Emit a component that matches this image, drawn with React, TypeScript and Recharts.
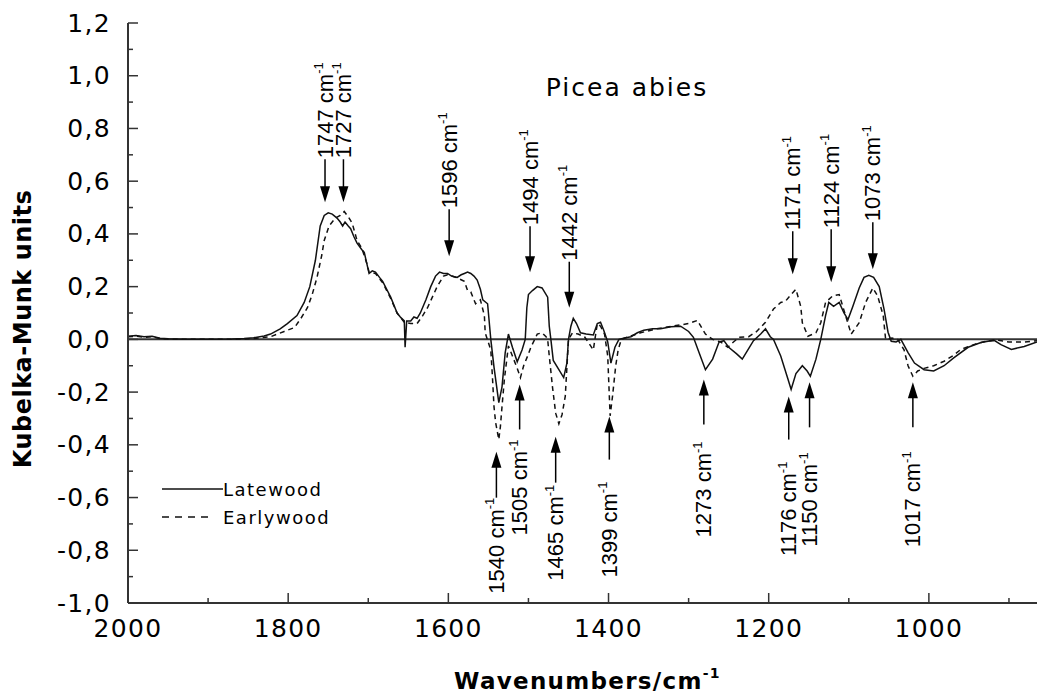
import React from "react";
import { LineChart, Line, XAxis, YAxis, ReferenceLine, ReferenceDot } from "recharts";

// Kubelka-Munk spectra: [wavenumber, value]
const latewood: [number, number][] = [
  [2000, 0.012], [1990, 0.015], [1980, 0.01], [1970, 0.012], [1960, 0.004], [1950, 0.002],
  [1930, 0], [1900, 0], [1870, 0.001], [1855, 0.003], [1843, 0.006], [1830, 0.013],
  [1822, 0.02], [1810, 0.04], [1801, 0.06], [1789, 0.09], [1780, 0.14], [1773, 0.2],
  [1766, 0.3], [1760, 0.43], [1755, 0.47], [1750, 0.48], [1745, 0.475], [1739, 0.46],
  [1735, 0.445], [1732, 0.43], [1729, 0.445], [1725, 0.43], [1722, 0.42], [1718, 0.39],
  [1714, 0.365], [1708, 0.34], [1705, 0.33], [1702, 0.29], [1699, 0.25], [1695, 0.26],
  [1691, 0.255], [1686, 0.235], [1682, 0.22], [1677, 0.19], [1672, 0.16], [1668, 0.13],
  [1664, 0.1], [1660, 0.085], [1655, 0.07], [1654, -0.03], [1652, 0.07], [1647, 0.07],
  [1643, 0.085], [1639, 0.08], [1635, 0.1], [1628, 0.15], [1622, 0.2], [1616, 0.24],
  [1611, 0.255], [1606, 0.25], [1601, 0.25], [1596, 0.24], [1589, 0.235], [1584, 0.245],
  [1580, 0.25], [1576, 0.255], [1572, 0.25], [1568, 0.24], [1564, 0.225], [1560, 0.19],
  [1557, 0.15], [1551, 0.135], [1547, 0], [1543, -0.105], [1537, -0.24], [1533, -0.18],
  [1529, -0.05], [1525, 0.02], [1520, -0.03], [1514, -0.085], [1508, -0.04], [1504, 0],
  [1502, 0.12], [1500, 0.17], [1495, 0.185], [1489, 0.2], [1483, 0.195], [1476, 0.16],
  [1474, 0.05], [1472, 0], [1469, -0.08], [1462, -0.115], [1456, -0.145], [1452, -0.09],
  [1450, 0], [1447, 0.05], [1444, 0.08], [1440, 0.06], [1435, 0.025], [1428, 0.02],
  [1419, 0.017], [1414, 0.06], [1410, 0.065], [1406, 0.035], [1401, -0.01], [1397, -0.09],
  [1392, -0.03], [1387, 0], [1380, 0.005], [1372, 0.01], [1364, 0.025], [1356, 0.035],
  [1345, 0.04], [1335, 0.04], [1322, 0.048], [1310, 0.05], [1300, 0.03], [1294, 0.008],
  [1287, -0.05], [1279, -0.115], [1270, -0.075], [1262, -0.01], [1256, -0.005], [1250, -0.03],
  [1240, -0.055], [1233, -0.075], [1226, -0.04], [1219, -0.005], [1210, 0.02], [1204, 0.04],
  [1198, 0.01], [1194, 0], [1185, -0.063], [1176, -0.15], [1172, -0.19], [1166, -0.13],
  [1158, -0.1], [1152, -0.12], [1148, -0.14], [1141, -0.075], [1135, 0], [1129, 0.09],
  [1125, 0.14], [1119, 0.125], [1112, 0.14], [1106, 0.1], [1101, 0.075], [1095, 0.125],
  [1087, 0.195], [1081, 0.235], [1075, 0.243], [1069, 0.235], [1062, 0.2], [1056, 0.115],
  [1051, 0.027], [1047, -0.007], [1041, -0.01], [1035, 0], [1026, -0.05], [1018, -0.09],
  [1006, -0.115], [994, -0.12], [981, -0.1], [969, -0.07], [951, -0.03], [935, -0.012],
  [919, -0.003], [910, -0.02], [897, -0.038], [881, -0.027], [865, -0.01],
];

const earlywood: [number, number][] = [
  [2000, 0.01], [1990, 0.012], [1980, 0.008], [1970, 0.01], [1960, 0.003], [1940, 0],
  [1900, 0], [1860, 0.001], [1840, 0.004], [1822, 0.01], [1805, 0.03], [1792, 0.045],
  [1784, 0.08], [1776, 0.12], [1770, 0.17], [1764, 0.235], [1758, 0.32], [1755, 0.375],
  [1749, 0.43], [1741, 0.46], [1735, 0.47], [1730, 0.485], [1725, 0.465], [1720, 0.44],
  [1714, 0.375], [1708, 0.345], [1702, 0.29], [1699, 0.255], [1691, 0.25], [1682, 0.215],
  [1672, 0.155], [1664, 0.1], [1655, 0.065], [1647, 0.06], [1639, 0.06], [1632, 0.09],
  [1626, 0.12], [1620, 0.16], [1614, 0.2], [1606, 0.24], [1601, 0.245], [1590, 0.235],
  [1580, 0.22], [1576, 0.185], [1572, 0.18], [1566, 0.135], [1560, 0.15], [1555, 0.09],
  [1554, 0.025], [1547, -0.04], [1545, -0.14], [1543, -0.255], [1541, -0.315], [1537, -0.38],
  [1535, -0.33], [1533, -0.255], [1530, -0.15], [1527, -0.075], [1525, -0.025], [1520, -0.063],
  [1514, -0.11], [1510, -0.145], [1506, -0.1], [1501, -0.063], [1497, -0.03], [1489, 0.02],
  [1483, 0.025], [1478, 0.01], [1476, 0], [1474, -0.063], [1470, -0.18], [1466, -0.28],
  [1462, -0.32], [1458, -0.285], [1454, -0.215], [1450, 0], [1445, 0.025], [1438, 0.02],
  [1430, 0.01], [1419, -0.04], [1414, 0.06], [1410, 0.05], [1405, 0.02], [1401, -0.063],
  [1400, -0.14], [1398, -0.29], [1395, -0.215], [1391, -0.1], [1388, -0.04], [1384, 0],
  [1375, 0.01], [1360, 0.025], [1340, 0.04], [1320, 0.05], [1300, 0.06], [1289, 0.072],
  [1279, 0.02], [1270, 0], [1260, -0.01], [1251, -0.03], [1244, -0.01], [1237, 0.008],
  [1225, 0.01], [1215, 0.03], [1204, 0.065], [1194, 0.115], [1185, 0.14], [1179, 0.145],
  [1172, 0.17], [1166, 0.19], [1160, 0.125], [1158, 0.063], [1151, 0.012], [1141, 0.025],
  [1135, 0.063], [1129, 0.14], [1120, 0.165], [1112, 0.17], [1104, 0.09], [1097, 0.02],
  [1087, 0.063], [1079, 0.14], [1070, 0.195], [1064, 0.165], [1057, 0.09], [1054, 0],
  [1046, 0.005], [1039, 0], [1031, -0.04], [1026, -0.1], [1020, -0.14], [1014, -0.12],
  [1006, -0.11], [994, -0.1], [981, -0.083], [969, -0.06], [960, -0.038], [944, -0.02],
  [930, -0.008], [915, -0.003], [900, -0.01], [880, -0.01], [865, -0.005],
];

const xTicks = [900, 1000, 1100, 1200, 1300, 1400, 1500, 1600, 1700, 1800, 1900, 2000];
const yTicks = [
  -1.0, -0.9, -0.8, -0.7, -0.6, -0.5, -0.4, -0.3, -0.2, -0.1, 0,
  0.1, 0.2, 0.3, 0.4, 0.5, 0.6, 0.7, 0.8, 0.9, 1.0, 1.1, 1.2,
];

// band labels above the curves: label, arrow wavenumber, arrow tip value, shaft px
const topBands: [string, number, number, number][] = [
  ["1747", 1754, 0.52, 43],
  ["1727", 1731, 0.52, 43],
  ["1596", 1599, 0.315, 47],
  ["1494", 1498, 0.255, 46],
  ["1442", 1449, 0.12, 46],
  ["1171", 1170, 0.247, 43],
  ["1124", 1122, 0.217, 53],
  ["1073", 1070, 0.266, 47],
];

// band labels below: label, arrow wavenumber, tip value, shaft px, text offset px
const bottomBands: [string, number, number, number, number][] = [
  ["1540", 1540, -0.426, 46, 46],
  ["1505", 1511, -0.171, 45, 55],
  ["1465", 1466, -0.369, 46, 48],
  ["1399", 1399, -0.293, 43, 65],
  ["1273", 1281, -0.152, 45, 62],
  ["1176", 1175, -0.217, 43, 65],
  ["1150", 1149, -0.163, 45, 70],
  ["1017", 1020, -0.163, 45, 69],
];

const INK = "#111";
const AXIS = "#333";
const tickFont = "'DejaVu Sans', sans-serif";
const bandFont = "'Liberation Sans', Arial, sans-serif";

const toRows = (pts: [number, number][]) => pts.map(([w, v]) => ({ w, v }));

const fmt = (v: number) => v.toFixed(1).replace(".", ",");

const XTick = (props: any) => {
  const { x, y, payload } = props;
  const v = payload.value;
  const major = v % 200 === 0;
  return (
    <g>
      <line x1={x} x2={x} y1={y} y2={y - (major ? 10 : 5)} stroke={AXIS} strokeWidth={1.5} />
      {major && (
        <text x={x} y={y + 25} textAnchor="middle" dominantBaseline="central"
          fontFamily={tickFont} fontSize={25} letterSpacing={1.3} fill="#000">
          {v}
        </text>
      )}
    </g>
  );
};

const YTick = (props: any) => {
  const { x, y, payload } = props;
  const v = payload.value;
  const major = Math.round(v * 10) % 2 === 0;
  return (
    <g>
      <line x1={x} x2={x + (major ? 10 : 5)} y1={y} y2={y} stroke={AXIS} strokeWidth={1.5} />
      {major && (
        <text x={x - 17} y={y} textAnchor="end" dominantBaseline="central"
          fontFamily={tickFont} fontSize={25} letterSpacing={1.3} fill="#000">
          {fmt(v)}
        </text>
      )}
    </g>
  );
};

const downArrow = (label: string, shaft: number) => (p: any) => {
  const { cx, cy } = p;
  const ty = cy - shaft;
  return (
    <g>
      <polygon points={`${cx},${cy} ${cx - 5},${cy - 16} ${cx + 5},${cy - 16}`} fill="#000" />
      <line x1={cx} x2={cx} y1={cy - 14} y2={ty} stroke="#000" strokeWidth={1.5} />
      <text transform={`rotate(-90 ${cx} ${ty - 1})`} x={cx} y={ty - 1} textAnchor="start"
        dominantBaseline="central" fontFamily={bandFont} fontSize={22} fill="#000">
        {label} cm<tspan dy={-7} fontSize={13}>-1</tspan>
      </text>
    </g>
  );
};

const upArrow = (label: string, shaft: number, offset: number) => (p: any) => {
  const { cx, cy } = p;
  const ty = cy + offset;
  return (
    <g>
      <polygon points={`${cx},${cy} ${cx - 5},${cy + 16} ${cx + 5},${cy + 16}`} fill="#000" />
      <line x1={cx} x2={cx} y1={cy + 14} y2={cy + shaft} stroke="#000" strokeWidth={1.5} />
      <text transform={`rotate(-90 ${cx} ${ty})`} x={cx} y={ty} textAnchor="end"
        dominantBaseline="central" fontFamily={bandFont} fontSize={22} fill="#000">
        {label} cm<tspan dy={-7} fontSize={13}>-1</tspan>
      </text>
    </g>
  );
};

export default function App() {
  return (
    <div style={{ position: "fixed", left: 0, top: 0, width: 1039, height: 697, background: "#fff" }}>
      <LineChart width={1039} height={697} margin={{ top: 23, right: 2, bottom: 0, left: 0 }}>
        <XAxis
          dataKey="w"
          type="number"
          domain={[865, 2000]}
          reversed
          allowDataOverflow
          ticks={xTicks}
          interval={0}
          height={94}
          tickSize={0}
          tickMargin={0}
          tick={<XTick />}
          axisLine={{ stroke: AXIS, strokeWidth: 2 }}
          label={{
            content: (p: any) => {
              const vb = p.viewBox;
              const cx = vb.x + vb.width / 2 + 5;
              const cy = vb.y + 78;
              return (
                <text x={cx} y={cy} textAnchor="middle" dominantBaseline="central"
                  fontFamily={tickFont} fontWeight="bold" fontSize={23} letterSpacing={1.3} fill="#000">
                  Wavenumbers/cm<tspan dy={-8} fontSize={14}>-1</tspan>
                </text>
              );
            },
          }}
        />
        <YAxis
          type="number"
          domain={[-1, 1.2]}
          allowDataOverflow
          ticks={yTicks}
          interval={0}
          width={128}
          tickSize={0}
          tickMargin={0}
          tick={<YTick />}
          axisLine={{ stroke: AXIS, strokeWidth: 2 }}
          label={{
            content: (p: any) => {
              const vb = p.viewBox;
              const cx = 23;
              const cy = vb.y + vb.height / 2 + 16;
              return (
                <text x={cx} y={cy} transform={`rotate(-90 ${cx} ${cy})`} textAnchor="middle"
                  dominantBaseline="central" fontFamily={tickFont} fontWeight="bold"
                  fontSize={24} letterSpacing={0.5} fill="#000">
                  Kubelka-Munk units
                </text>
              );
            },
          }}
        />
        <ReferenceLine y={0} stroke={AXIS} strokeWidth={2} />
        <Line
          data={toRows(earlywood)}
          dataKey="v"
          name="Earlywood"
          type="linear"
          stroke={INK}
          strokeWidth={1.5}
          strokeDasharray="5 4"
          dot={false}
          isAnimationActive={false}
        />
        <Line
          data={toRows(latewood)}
          dataKey="v"
          name="Latewood"
          type="linear"
          stroke={INK}
          strokeWidth={1.5}
          dot={false}
          isAnimationActive={false}
        />
        {topBands.map(([label, w, tip, shaft]) => (
          <ReferenceDot key={"t" + label} x={w} y={tip} r={0} shape={downArrow(label, shaft)} />
        ))}
        {bottomBands.map(([label, w, tip, shaft, off]) => (
          <ReferenceDot key={"b" + label} x={w} y={tip} r={0} shape={upArrow(label, shaft, off)} />
        ))}
      </LineChart>

      {/* title and legend */}
      <svg width={1039} height={697} style={{ position: "absolute", left: 0, top: 0, pointerEvents: "none" }}>
        <text x={627} y={87} textAnchor="middle" dominantBaseline="central"
          fontFamily={tickFont} fontSize={25} letterSpacing={2} fill="#000">
          Picea abies
        </text>
        <line x1={162} x2={223} y1={489} y2={489} stroke={INK} strokeWidth={1.5} />
        <text x={223} y={489} dominantBaseline="central" fontFamily={tickFont} fontSize={18}
          letterSpacing={1.5} fill="#000">
          Latewood
        </text>
        <line x1={162} x2={214} y1={517} y2={517} stroke={INK} strokeWidth={1.5} strokeDasharray="7 6" />
        <text x={223} y={517} dominantBaseline="central" fontFamily={tickFont} fontSize={18}
          letterSpacing={1.5} fill="#000">
          Earlywood
        </text>
      </svg>
    </div>
  );
}
